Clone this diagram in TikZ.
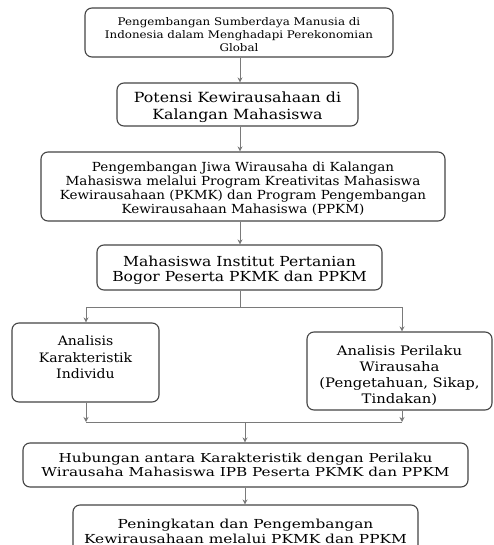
\documentclass[tikz,border=0pt]{standalone}
\usepackage{fontspec}
\setmainfont{DejaVu Serif}
\newfontfamily\fsA[FakeStretch=1.13]{DejaVu Serif}
\newfontfamily\fsB[FakeStretch=1.24]{DejaVu Serif}
\newfontfamily\fsC[FakeStretch=1.08]{DejaVu Serif}
\usetikzlibrary{arrows.meta}
\definecolor{boxline}{HTML}{454545}
\definecolor{arrline}{HTML}{7A7A7A}
\newcommand\boxtext[2]{\raisebox{-#1pt}[\height][\depth]{\begin{tabular}{@{}c@{}}#2\end{tabular}}}
\tikzset{
  box/.style={draw=boxline, line width=1.1pt, rounded corners=7pt, inner sep=0pt, anchor=center},
  arr/.style={draw=arrline, line width=1pt, -{Stealth[length=5pt,width=5pt]}},
  ln/.style={draw=arrline, line width=1pt},
}
\begin{document}
\begin{tikzpicture}[x=1pt,y=1pt]
\useasboundingbox (0,0) rectangle (493,-545);
\fill[white] (0,0) rectangle (493,-545);
\begin{scope}
\clip (0,0) rectangle (493,-545);
\node[box, minimum width=308pt, minimum height=49pt, font=\fsA\fontsize{10.5}{13}\selectfont] (b1) at (239,-32.5)
  {\boxtext{3.5}{Pengembangan Sumberdaya Manusia di\\Indonesia dalam Menghadapi Perekonomian\\Global}};
\node[box, minimum width=241pt, minimum height=43pt, font=\fsA\fontsize{14}{17}\selectfont] (b2) at (237.5,-104.5)
  {\boxtext{3}{Potensi Kewirausahaan di\\Kalangan Mahasiswa}};
\node[box, minimum width=404pt, minimum height=69pt, font=\fsC\fontsize{12.5}{14}\selectfont] (b3) at (243,-186.5)
  {\boxtext{3.5}{Pengembangan Jiwa Wirausaha di Kalangan\\Mahasiswa melalui Program Kreativitas Mahasiswa\\Kewirausahaan (PKMK) dan Program Pengembangan\\Kewirausahaan Mahasiswa (PPKM)}};
\node[box, minimum width=285pt, minimum height=45pt, font=\fsA\fontsize{13.8}{15}\selectfont] (b4) at (239.5,-267.5)
  {\boxtext{3}{Mahasiswa Institut Pertanian\\Bogor Peserta PKMK dan PPKM}};
\node[box, minimum width=147pt, minimum height=79pt, font=\fsC\fontsize{13}{16.5}\selectfont] (bl) at (85.5,-362.5)
  {\boxtext{-3.5}{Analisis\\Karakteristik\\Individu}};
\node[box, minimum width=185pt, minimum height=78pt, font=\fsA\fontsize{13.1}{16}\selectfont] (br) at (399.5,-371)
  {\boxtext{5}{Analisis Perilaku\\Wirausaha\\(Pengetahuan, Sikap,\\Tindakan)}};
\node[box, minimum width=445pt, minimum height=44pt, font=\fsB\fontsize{12.3}{14.5}\selectfont] (b5) at (245.5,-465)
  {\boxtext{1.5}{Hubungan antara Karakteristik dengan Perilaku\\Wirausaha Mahasiswa IPB Peserta PKMK dan PPKM}};
\node[box, minimum width=345pt, minimum height=55pt, font=\fsB\fontsize{12.4}{15}\selectfont] (b6) at (245.5,-532.5)
  {\boxtext{0}{Peningkatan dan Pengembangan\\Kewirausahaan melalui PKMK dan PPKM}};
\end{scope}
\coordinate (sp) at (240,-307);
\coordinate (spl) at (86,-307);
\coordinate (spr) at (402,-307);
\coordinate (mg) at (245,-422);
\coordinate (mgl) at (86,-422);
\coordinate (mgr) at (402,-422);
\draw[arr] (240,0 |- b1.south) -- (240,0 |- b2.north);
\draw[arr] (240,0 |- b2.south) -- (240,0 |- b3.north);
\draw[arr] (240,0 |- b3.south) -- (240,0 |- b4.north);
\draw[ln] (240,0 |- b4.south) -- (sp);
\draw[ln] (spl) -- (spr);
\draw[arr] (spl) -- (spl |- bl.north);
\draw[arr] (spr) -- (spr |- br.north);
\draw[arr] (mgl |- bl.south) -- (mgl);
\draw[arr] (mgr |- br.south) -- (mgr);
\draw[ln] (mgl) -- (mgr);
\draw[arr] (mg) -- (mg |- b5.north);
\draw[arr] (mg |- b5.south) -- (mg |- b6.north);
\end{tikzpicture}
\end{document}
